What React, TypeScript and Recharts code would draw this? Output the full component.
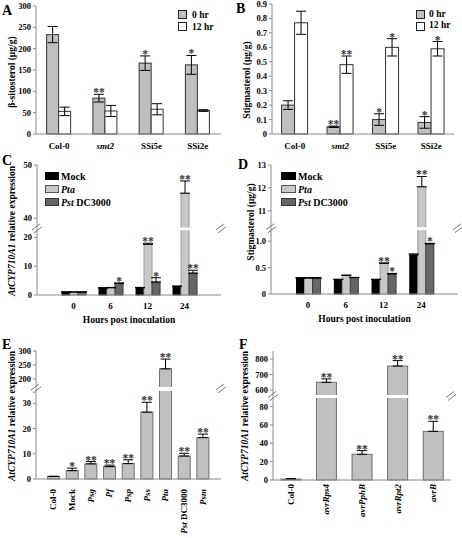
import React from 'react';
import { BarChart, Bar, XAxis, YAxis, ErrorBar, LabelList, ReferenceLine } from 'recharts';

const FONT = '"Liberation Serif", "Times New Roman", Times, serif';
const FRAME = '#8a8a8a';

// ---------- Panel A : beta-sitosterol ----------
const lineCats = ['Col-0', 'smt2', 'SSi5e', 'SSi2e'];
const lineItalic = ['smt2'];
const sitoHr0 = [233, 84, 166, 162];
const sitoHr0Err = [19, 9, 17, 22];
const sitoHr0Sig = ['', '**', '*', '*'];
const sitoHr12 = [53, 54, 58, 55];
const sitoHr12Err = [10, 13, 13, 2];
const sitoHr12Sig = ['', '', '', ''];
const sitoTicks = [0, 50, 100, 150, 200, 250, 300];

// ---------- Panel B : stigmasterol ----------
const stigHr0 = [0.2, 0.05, 0.1, 0.08];
const stigHr0Err = [0.03, 0.005, 0.04, 0.04];
const stigHr0Sig = ['', '**', '*', '*'];
const stigHr12 = [0.77, 0.48, 0.6, 0.59];
const stigHr12Err = [0.08, 0.06, 0.06, 0.05];
const stigHr12Sig = ['', '**', '*', '*'];
const stigTicks = [0, 0.1, 0.2, 0.3, 0.4, 0.5, 0.6, 0.7, 0.8, 0.9];

// ---------- Panel C : AtCYP710A1 expression time course ----------
const hours = ['0', '6', '12', '24'];
const cMock = [1.0, 2.4, 2.5, 2.9];
const cMockErr = [0.1, 0.15, 0.15, 0.25];
const cMockSig = ['', '', '', ''];
const cPta = [1.0, 2.5, 17.6, 44.7];
const cPtaErr = [0.1, 0.15, 0.4, 2.3];
const cPtaSig = ['', '', '**', '**'];
const cPst = [1.0, 4.0, 4.5, 7.6];
const cPstErr = [0.1, 0.2, 1.5, 1.0];
const cPstSig = ['', '*', '*', '**'];
const cTicks = [0, 10, 20, 40, 50];
const cTickLabels = ['0', '10', '20', '40', '50'];

// ---------- Panel D : stigmasterol time course ----------
const dMock = [0.3, 0.275, 0.275, 0.74];
const dMockErr = [0.01, 0.005, 0.005, 0.02];
const dMockSig = ['', '', '', ''];
const dPta = [0.3, 0.35, 0.58, 12.05];
const dPtaErr = [0.01, 0.01, 0.01, 0.45];
const dPtaSig = ['', '', '**', '**'];
const dPst = [0.3, 0.31, 0.38, 0.95];
const dPstErr = [0.01, 0.005, 0.01, 0.01];
const dPstSig = ['', '', '*', '*'];
const dTicks = [0, 0.5, 1.0, 11, 12, 13];
const dTickLabels = ['0', '0.5', '1.0', '11', '12', '13'];

// ---------- Panel E : strains ----------
const strains = ['Col-0', 'Mock', 'Psg', 'Pf', 'Psp', 'Pss', 'Pta', 'Pst DC3000', 'Psm'];
const strainItalic = ['Psg', 'Pf', 'Psp', 'Pss', 'Pta', 'Pst', 'Psm'];
const eExpr = [1.0, 3.3, 6.0, 4.9, 6.1, 26.5, 236, 9.1, 16.4];
const eErr = [0.1, 1.0, 0.9, 0.6, 1.5, 3.9, 35, 1.1, 1.4];
const eSig = ['', '*', '**', '**', '**', '**', '**', '**', '**'];
const eTicks = [0, 10, 20, 30, 200, 250, 300];
const eTickLabels = ['0', '10', '20', '30', '200', '250', '300'];

// ---------- Panel F : effectors ----------
const effectors = ['Col-0', 'avrRps4', 'avrPphB', 'avrRpt2', 'avrB'];
const effItalic = ['avrRps4', 'avrPphB', 'avrRpt2', 'avrB'];
const fExpr = [1, 650, 28, 755, 53];
const fErr = [0.5, 22, 4, 35, 11];
const fSig = ['', '**', '**', '**', '**'];
const fTicks = [0, 20, 40, 60, 80, 600, 700, 800];
const fTickLabels = ['0', '20', '40', '60', '80', '600', '700', '800'];

// ---------- broken-axis scale definitions ----------
type Brk = { lowMax: number; hiMin: number; hiMax: number; lowFrac: number; gapFrac: number };
const cBreak: Brk = { lowMax: 22.5, hiMin: 38.25, hiMax: 50, lowFrac: 0.498, gapFrac: 0.021 };
const dBreak: Brk = { lowMax: 1.21, hiMin: 10.29, hiMax: 13, lowFrac: 0.495, gapFrac: 0.023 };
const eBreak: Brk = { lowMax: 34.9, hiMin: 171, hiMax: 300, lowFrac: 0.688, gapFrac: 0.031 };
const fBreak: Brk = { lowMax: 89.4, hiMin: 568, hiMax: 852, lowFrac: 0.636, gapFrac: 0.023 };

const makeT = (b: Brk) => (v: number) =>
  v <= b.lowMax
    ? (v / b.lowMax) * b.lowFrac
    : b.lowFrac + b.gapFrac + ((v - b.hiMin) / (b.hiMax - b.hiMin)) * (1 - b.lowFrac - b.gapFrac);

type Ser = { key: string; vals: number[]; errs: number[]; sigs: string[] };

function linRows(cats: string[], series: Ser[]) {
  return cats.map((cat, i) => {
    const r: any = { cat };
    series.forEach((s) => {
      r[s.key] = s.vals[i];
      r[s.key + 'Err'] = s.errs[i];
      r[s.key + 'Top'] = s.vals[i] + s.errs[i];
      r[s.key + 'Sig'] = s.sigs[i];
    });
    return r;
  });
}

function brkRows(cats: string[], series: Ser[], b: Brk) {
  const t = makeT(b);
  return cats.map((cat, i) => {
    const r: any = { cat };
    series.forEach((s) => {
      const v = t(s.vals[i]);
      const top = t(s.vals[i] + s.errs[i]);
      r[s.key] = v;
      r[s.key + 'Err'] = [0, top - v];
      r[s.key + 'Top'] = top;
      r[s.key + 'Sig'] = s.sigs[i];
    });
    return r;
  });
}

type Part = [string, boolean];

function partsOf(label: string, italic: string[]): Part[] {
  const words = label.split(' ');
  return words.map((w, i) => [(i > 0 ? ' ' : '') + w, italic.includes(w)] as Part);
}

function renderParts(parts: Part[]) {
  return parts.map(([txt, it], i) => (
    <tspan key={i} fontStyle={it ? 'italic' : 'normal'} style={{ whiteSpace: 'pre' }}>
      {txt}
    </tspan>
  ));
}

const catTick = (italic: string[], dy: number) => (props: any) => {
  const { x, y, payload } = props;
  return (
    <text x={x} y={y + dy} textAnchor="middle" fontSize={9} fontWeight="bold" fontFamily={FONT} fill="#000">
      {renderParts(partsOf(String(payload.value), italic))}
    </text>
  );
};

const rotTick = (italic: string[], dy: number) => (props: any) => {
  const { x, y, payload } = props;
  return (
    <text
      transform={`translate(${x + 3},${y + dy}) rotate(-90)`}
      textAnchor="end"
      fontSize={9}
      fontWeight="bold"
      fontFamily={FONT}
      fill="#000"
    >
      {renderParts(partsOf(String(payload.value), italic))}
    </text>
  );
};

const sigContent = (rows: any[], key: string) => (props: any) => {
  const { index, value } = props;
  if (!value) return null;
  const vb = props.viewBox || props;
  const x = Number(vb.x);
  const y = Number(vb.y);
  const w = Number(vb.width);
  const h = Number(vb.height);
  const r = rows[index];
  if (!r) return null;
  const v = r[key];
  const top = r[key + 'Top'];
  const bottom = y + h;
  const yy = v > 0 && h > 0 ? bottom - (top / v) * h : y;
  return (
    <text
      x={x + w / 2}
      y={yy + 2}
      textAnchor="middle"
      fontSize={11.5}
      fontWeight="bold"
      fontFamily={FONT}
      fill="#333"
    >
      {value}
    </text>
  );
};

const barShape = (key: string, brk?: Brk) => (props: any) => {
  const { x, y, width, height, fill, stroke, payload } = props;
  if (!(height > 0)) return <g />;
  const els = [
    <rect key="r" x={x} y={y} width={width} height={height} fill={fill} stroke={stroke} strokeWidth={1} />,
  ];
  if (brk) {
    const tv = payload[key];
    const cut = brk.lowFrac + brk.gapFrac;
    if (tv > cut) {
      const bottom = y + height;
      const ppu = height / tv;
      const gTop = bottom - cut * ppu;
      const gBot = bottom - brk.lowFrac * ppu;
      els.push(<rect key="g" x={x - 1} y={gTop} width={width + 2} height={gBot - gTop} fill="#fff" />);
    }
  }
  return <g>{els}</g>;
};

const breakMarks = (props: any) => {
  const vb = props.viewBox;
  if (!vb) return null;
  const yc = vb.y;
  const mark = (cx: number) => (
    <g key={cx}>
      <polygon points={`${cx - 5},${yc + 1} ${cx + 3},${yc - 5} ${cx + 5},${yc - 2} ${cx - 3},${yc + 4}`} fill="#fff" />
      <line x1={cx - 5} y1={yc + 1} x2={cx + 3} y2={yc - 5} stroke="#555" strokeWidth={0.8} />
      <line x1={cx - 3} y1={yc + 4} x2={cx + 5} y2={yc - 2} stroke="#555" strokeWidth={0.8} />
    </g>
  );
  return <g>{[mark(vb.x), mark(vb.x + vb.width)]}</g>;
};

type SeriesStyle = { key: string; fill: string; stroke: string };

type PanelProps = {
  left: number;
  top: number;
  width: number;
  height: number;
  margin: { top: number; right: number; bottom: number; left: number };
  yWidth: number;
  xHeight: number;
  rows: any[];
  series: SeriesStyle[];
  yDomain: [number, number];
  yTicks: number[];
  yFmt: (v: any) => string;
  brk?: Brk;
  xPad: { left: number; right: number };
  gap: string;
  xTick: any;
  xTitle?: string;
  yTitle: { cx: number; cy: number; parts: Part[] };
};

function Panel(p: PanelProps) {
  const yTitle = () => (
    <text
      transform={`translate(${p.yTitle.cx + 3.2},${p.yTitle.cy}) rotate(-90)`}
      textAnchor="middle"
      fontSize={9.5}
      fontWeight="bold"
      fontFamily={FONT}
      fill="#000"
    >
      {renderParts(p.yTitle.parts)}
    </text>
  );
  const xTitle = (props: any) => {
    const vb = props.viewBox;
    return (
      <text x={vb.x + vb.width / 2} y={vb.y + 27.5} textAnchor="middle" fontSize={9.5} fontWeight="bold" fontFamily={FONT} fill="#000">
        {p.xTitle}
      </text>
    );
  };
  return (
    <div style={{ position: 'absolute', left: p.left, top: p.top }}>
      <BarChart width={p.width} height={p.height} data={p.rows} margin={p.margin} barCategoryGap={p.gap} barGap={0}>
        <XAxis
          dataKey="cat"
          xAxisId="top"
          orientation="top"
          height={0}
          tick={false}
          tickLine={false}
          axisLine={{ stroke: FRAME }}
          padding={p.xPad}
        />
        <YAxis
          yAxisId="right"
          orientation="right"
          width={0}
          type="number"
          domain={p.yDomain}
          tick={false}
          tickLine={false}
          axisLine={{ stroke: FRAME }}
        />
        <XAxis
          dataKey="cat"
          height={p.xHeight}
          tickLine={false}
          tickSize={0}
          tickMargin={0}
          interval={0}
          axisLine={{ stroke: FRAME }}
          padding={p.xPad}
          tick={p.xTick}
          label={p.xTitle ? { content: xTitle } : undefined}
        />
        <YAxis
          type="number"
          domain={p.yDomain}
          ticks={p.yTicks}
          interval={0}
          width={p.yWidth}
          tickSize={3}
          tickMargin={2}
          tickLine={{ stroke: FRAME }}
          axisLine={{ stroke: FRAME }}
          tick={{ fontSize: 8.5, fontWeight: 'bold', fontFamily: FONT, fill: '#000' }}
          tickFormatter={p.yFmt}
          label={{ content: yTitle }}
        />
        {p.series.map((s) => (
          <Bar
            key={s.key}
            dataKey={s.key}
            fill={s.fill}
            stroke={s.stroke}
            isAnimationActive={false}
            shape={barShape(s.key, p.brk)}
          >
            <ErrorBar dataKey={s.key + 'Err'} width={5} stroke="#000" strokeWidth={1} />
            <LabelList dataKey={s.key + 'Sig'} content={sigContent(p.rows, s.key)} />
          </Bar>
        ))}
        {p.brk && (
          <ReferenceLine
            y={p.brk.lowFrac + p.brk.gapFrac / 2}
            stroke="none"
            ifOverflow="visible"
            label={breakMarks}
          />
        )}
      </BarChart>
    </div>
  );
}

type LegendItem = { parts: Part[]; fill: string; stroke: string };

function LegendBox(props: {
  left: number;
  top: number;
  items: LegendItem[];
  sw: number;
  sh: number;
  step: number;
  textDx: number;
  fs: number;
}) {
  const { left, top, items, sw, sh, step, textDx, fs } = props;
  return (
    <div style={{ position: 'absolute', left, top, fontFamily: FONT, fontWeight: 'bold', fontSize: fs, lineHeight: `${step}px` }}>
      {items.map((it, i) => (
        <div key={i} style={{ position: 'relative', height: step, whiteSpace: 'nowrap' }}>
          <div
            style={{
              position: 'absolute',
              left: 0,
              top: (step - sh) / 2,
              width: sw,
              height: sh,
              background: it.fill,
              border: `1px solid ${it.stroke}`,
              boxSizing: 'border-box',
            }}
          />
          <span style={{ position: 'absolute', left: textDx, top: 0 }}>
            {it.parts.map(([t, ital], k) => (
              <span key={k} style={{ fontStyle: ital ? 'italic' : 'normal', whiteSpace: 'pre' }}>
                {t}
              </span>
            ))}
          </span>
        </div>
      ))}
    </div>
  );
}

const tFmt = (ticksT: number[], labels: string[]) => (v: any) => {
  const i = ticksT.findIndex((t) => Math.abs(t - Number(v)) < 1e-9);
  return i >= 0 ? labels[i] : '';
};

export default function App() {
  const rowsA = linRows(lineCats, [
    { key: 'h0', vals: sitoHr0, errs: sitoHr0Err, sigs: sitoHr0Sig },
    { key: 'h12', vals: sitoHr12, errs: sitoHr12Err, sigs: sitoHr12Sig },
  ]);
  const rowsB = linRows(lineCats, [
    { key: 'h0', vals: stigHr0, errs: stigHr0Err, sigs: stigHr0Sig },
    { key: 'h12', vals: stigHr12, errs: stigHr12Err, sigs: stigHr12Sig },
  ]);
  const rowsC = brkRows(
    hours,
    [
      { key: 'mock', vals: cMock, errs: cMockErr, sigs: cMockSig },
      { key: 'pta', vals: cPta, errs: cPtaErr, sigs: cPtaSig },
      { key: 'pst', vals: cPst, errs: cPstErr, sigs: cPstSig },
    ],
    cBreak
  );
  const rowsD = brkRows(
    hours,
    [
      { key: 'mock', vals: dMock, errs: dMockErr, sigs: dMockSig },
      { key: 'pta', vals: dPta, errs: dPtaErr, sigs: dPtaSig },
      { key: 'pst', vals: dPst, errs: dPstErr, sigs: dPstSig },
    ],
    dBreak
  );
  const rowsE = brkRows(strains, [{ key: 'v', vals: eExpr, errs: eErr, sigs: eSig }], eBreak);
  const rowsF = brkRows(effectors, [{ key: 'v', vals: fExpr, errs: fErr, sigs: fSig }], fBreak);

  const cT = cTicks.map(makeT(cBreak));
  const dT = dTicks.map(makeT(dBreak));
  const eT = eTicks.map(makeT(eBreak));
  const fT = fTicks.map(makeT(fBreak));

  const hrSeries: SeriesStyle[] = [
    { key: 'h0', fill: '#bfbfbf', stroke: '#333' },
    { key: 'h12', fill: '#ffffff', stroke: '#333' },
  ];
  const infSeries: SeriesStyle[] = [
    { key: 'mock', fill: '#000000', stroke: '#000' },
    { key: 'pta', fill: '#c8c8c8', stroke: '#9a9a9a' },
    { key: 'pst', fill: '#666666', stroke: '#3a3a3a' },
  ];
  const oneSeries: SeriesStyle[] = [{ key: 'v', fill: '#c0c0c0', stroke: '#6e6e6e' }];

  const hrLegend: LegendItem[] = [
    { parts: [['0 hr', false]], fill: '#bfbfbf', stroke: '#222' },
    { parts: [['12 hr', false]], fill: '#ffffff', stroke: '#222' },
  ];
  const infLegend: LegendItem[] = [
    { parts: [['Mock', false]], fill: '#000', stroke: '#000' },
    { parts: [['Pta', true]], fill: '#c8c8c8', stroke: '#555' },
    { parts: [['Pst', true], [' DC3000', false]], fill: '#666', stroke: '#333' },
  ];

  const exprTitle: Part[] = [
    ['AtCYP710A1', true],
    [' relative expression', false],
  ];

  return (
    <div style={{ position: 'absolute', left: 0, top: 0, width: 462, height: 538, background: '#fff', overflow: 'hidden' }}>
      <Panel
        left={0}
        top={0}
        width={231}
        height={160}
        margin={{ top: 6, right: 10, bottom: 6, left: 0 }}
        yWidth={36}
        xHeight={20}
        rows={rowsA}
        series={hrSeries}
        yDomain={[0, 300]}
        yTicks={sitoTicks}
        yFmt={(v) => String(v)}
        xPad={{ left: 0, right: 0 }}
        gap="23%"
        xTick={catTick(lineItalic, 15)}
        yTitle={{ cx: 12, cy: 72, parts: [['β-sitosterol (µg/g)', false]] }}
      />
      <Panel
        left={231}
        top={0}
        width={231}
        height={160}
        margin={{ top: 4, right: 8, bottom: 6, left: 0 }}
        yWidth={41}
        xHeight={20}
        rows={rowsB}
        series={hrSeries}
        yDomain={[0, 0.9]}
        yTicks={stigTicks}
        yFmt={(v) => (Number(v) === 0 ? '0' : Number(v).toFixed(1))}
        xPad={{ left: 0, right: 0 }}
        gap="21%"
        xTick={catTick(lineItalic, 15)}
        yTitle={{ cx: 16, cy: 80, parts: [['Stigmasterol (µg/g)', false]] }}
      />
      <Panel
        left={0}
        top={150}
        width={231}
        height={180}
        margin={{ top: 15, right: 10, bottom: 0, left: 0 }}
        yWidth={37}
        xHeight={35}
        rows={rowsC}
        series={infSeries}
        yDomain={[0, 1]}
        yTicks={cT}
        yFmt={tFmt(cT, cTickLabels)}
        brk={cBreak}
        xPad={{ left: 18, right: 18 }}
        gap="19%"
        xTick={catTick([], 14)}
        xTitle="Hours post inoculation"
        yTitle={{ cx: 11.5, cy: 81, parts: exprTitle }}
      />
      <Panel
        left={231}
        top={150}
        width={231}
        height={180}
        margin={{ top: 15, right: 4, bottom: 0, left: 0 }}
        yWidth={40}
        xHeight={36}
        rows={rowsD}
        series={infSeries}
        yDomain={[0, 1]}
        yTicks={dT}
        yFmt={tFmt(dT, dTickLabels)}
        brk={dBreak}
        xPad={{ left: 18, right: 18 }}
        gap="20%"
        xTick={catTick([], 14)}
        xTitle="Hours post inoculation"
        yTitle={{ cx: 20, cy: 72, parts: [['Stigmasterol (µg/g)', false]] }}
      />
      <Panel
        left={0}
        top={330}
        width={231}
        height={208}
        margin={{ top: 21, right: 10, bottom: 0, left: 0 }}
        yWidth={36}
        xHeight={59}
        rows={rowsE}
        series={oneSeries}
        yDomain={[0, 1]}
        yTicks={eT}
        yFmt={tFmt(eT, eTickLabels)}
        brk={eBreak}
        xPad={{ left: 8, right: 9 }}
        gap="19%"
        xTick={rotTick(strainItalic, 10)}
        yTitle={{ cx: 12, cy: 86, parts: exprTitle }}
      />
      <Panel
        left={231}
        top={330}
        width={231}
        height={208}
        margin={{ top: 21, right: 11, bottom: 0, left: 0 }}
        yWidth={42}
        xHeight={58}
        rows={rowsF}
        series={oneSeries}
        yDomain={[0, 1]}
        yTicks={fT}
        yFmt={tFmt(fT, fTickLabels)}
        brk={fBreak}
        xPad={{ left: 0, right: 0 }}
        gap="22%"
        xTick={rotTick(effItalic, 4)}
        yTitle={{ cx: 14, cy: 86, parts: exprTitle }}
      />

      <LegendBox left={178} top={8.5} items={hrLegend} sw={9} sh={9} step={12} textDx={14} fs={9.5} />
      <LegendBox left={416} top={8.75} items={hrLegend} sw={9} sh={9} step={11.5} textDx={13} fs={9.5} />
      <LegendBox left={45} top={169.5} items={infLegend} sw={14} sh={8} step={13} textDx={16} fs={10} />
      <LegendBox left={281} top={169.5} items={infLegend} sw={15} sh={8} step={13} textDx={17} fs={10} />

      <svg width={462} height={538} style={{ position: 'absolute', left: 0, top: 0, pointerEvents: 'none' }}>
        <g fontFamily={FONT} fontWeight="bold" fontSize={14} fill="#000">
          <text x={2} y={15}>A</text>
          <text x={236} y={13}>B</text>
          <text x={2} y={165}>C</text>
          <text x={238} y={169}>D</text>
          <text x={2} y={349}>E</text>
          <text x={239} y={349}>F</text>
        </g>
      </svg>
    </div>
  );
}
